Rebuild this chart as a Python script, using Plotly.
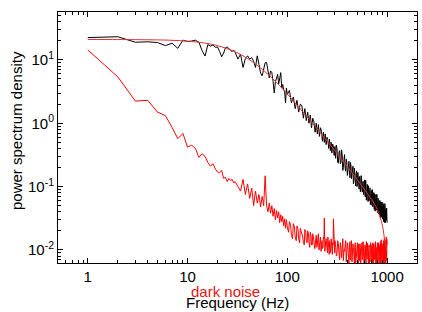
import numpy as np
import plotly.graph_objects as go

# Frequency grid (Hz) of the tabulated spectra
freq = np.concatenate([
    np.arange(1, 31, 1),
    np.arange(32, 101, 2),
    np.arange(105, 301, 5),
    np.arange(310, 1001, 10),
])
# extra interleaved bins at higher frequencies
freq_hi_extra = np.arange(305, 1000, 10)
freq_mid_extra = np.arange(103, 300, 5)

# Measured power spectrum (black)
psd_signal = [
    22.5, 23.2, 19.0, 19.3, 18.8, 16.8, 18.3, 15.2, 20.5, 19.5,
    19.8, 20.5, 19.0, 14.0, 11.5, 17.5, 16.5, 17.2, 15.8, 16.0,
    13.5, 11.2, 12.8, 15.5, 16.0, 15.0, 14.2, 13.5, 14.3, 13.2,
    # 32..100 step 2
    10.3, 12.3, 7.6, 10.5, 11.6, 10.3, 10.9, 9.5, 7.6, 11.6,
    8.5, 6.2, 5.6, 7.5, 9.0, 9.1, 6.8, 5.2, 6.7, 6.3,
    4.6, 3.0, 4.5, 5.2, 5.9, 4.2, 5.0, 6.3, 3.6, 4.1,
    3.4, 3.2, 2.1, 3.6, 2.85,
    # 105..300 step 5
    3.3, 2.1, 2.6, 1.7, 2.3, 1.5, 2.0, 1.9, 1.2, 1.7,
    1.1, 1.5, 1.0, 1.35, 0.85, 1.2, 1.05, 0.72, 1.0, 0.68,
    0.95, 0.62, 0.85, 0.75, 0.52, 0.72, 0.5, 0.68, 0.46, 0.6,
    0.55, 0.4, 0.56, 0.37, 0.5, 0.34, 0.47, 0.42, 0.31, 0.43,
    # 310..1000 step 10
    0.45, 0.24, 0.35, 0.23, 0.38, 0.18, 0.27, 0.195, 0.27, 0.15,
    0.24, 0.17, 0.24, 0.134, 0.173, 0.111, 0.196, 0.119, 0.16, 0.10,
    0.167, 0.099, 0.143, 0.083, 0.149, 0.091, 0.113, 0.075, 0.120, 0.074,
    0.126, 0.061, 0.097, 0.069, 0.103, 0.060, 0.090, 0.052, 0.077, 0.062,
    0.090, 0.048, 0.075, 0.049, 0.077, 0.041, 0.065, 0.045, 0.075, 0.039,
    0.064, 0.040, 0.054, 0.034, 0.060, 0.039, 0.053, 0.033, 0.057, 0.033,
    0.047, 0.028, 0.050, 0.031, 0.054, 0.027, 0.043, 0.030, 0.046, 0.027,
]
# black values at 305..995 step 10
psd_signal_hi_extra = [
    0.28, 0.40, 0.235, 0.37, 0.237, 0.316, 0.20, 0.32, 0.175, 0.245,
    0.173, 0.25, 0.138, 0.21, 0.151, 0.21, 0.123, 0.163, 0.102, 0.177,
    0.111, 0.145, 0.091, 0.146, 0.090, 0.141, 0.082, 0.121, 0.083, 0.128,
    0.0686, 0.106, 0.0685, 0.108, 0.058, 0.0897, 0.0643, 0.0956, 0.057, 0.0866,
    0.0506, 0.0786, 0.0541, 0.0806, 0.0435, 0.0706, 0.0487, 0.0753, 0.0424, 0.061,
    0.0414, 0.0657, 0.037, 0.0601, 0.040, 0.055, 0.0323, 0.057, 0.0342, 0.050,
    0.0307, 0.054, 0.0333, 0.046, 0.0271, 0.0478, 0.0288, 0.0441, 0.0294, 0.039,
]

# Dark noise spectrum (red, noisy)
psd_dark = [
    14.4, 5.4, 2.24, 2.3, 1.5, 1.32, 0.86, 0.57, 0.69, 0.42,
    0.45, 0.40, 0.29, 0.33, 0.30, 0.24, 0.21, 0.23, 0.19, 0.17,
    0.165, 0.18, 0.135, 0.14, 0.12, 0.135, 0.125, 0.13, 0.115, 0.12,
    # 32..100 step 2
    0.10, 0.085, 0.13, 0.075, 0.11, 0.065, 0.095, 0.05, 0.085, 0.055,
    0.075, 0.048, 0.07, 0.05, 0.148, 0.05, 0.04, 0.055, 0.038, 0.05,
    0.034, 0.045, 0.03, 0.042, 0.032, 0.04, 0.027, 0.036, 0.028, 0.034,
    0.024, 0.031, 0.022, 0.03, 0.023,
    # 105..300 step 5
    0.028, 0.017, 0.026, 0.016, 0.024, 0.015, 0.022, 0.018, 0.013, 0.021,
    0.014, 0.020, 0.013, 0.019, 0.012, 0.018, 0.014, 0.011, 0.017, 0.012,
    0.018, 0.011, 0.016, 0.012, 0.0105, 0.016, 0.032, 0.011, 0.015, 0.0095,
    0.016, 0.011, 0.014, 0.009, 0.015, 0.0105, 0.013, 0.031, 0.009, 0.014,
    # 310..1000 step 10
    0.008, 0.014, 0.009, 0.013, 0.0075, 0.015, 0.010, 0.012, 0.0065, 0.013,
    0.0085, 0.012, 0.007, 0.014, 0.009, 0.011, 0.0058, 0.013, 0.008, 0.012,
    0.0075, 0.0125, 0.0068, 0.011, 0.0085, 0.013, 0.007, 0.0115, 0.0055, 0.012,
    0.008, 0.0135, 0.0072, 0.011, 0.006, 0.012, 0.0085, 0.0125, 0.0065, 0.011,
    0.0078, 0.013, 0.0062, 0.0115, 0.0082, 0.0125, 0.0058, 0.011, 0.0075, 0.013,
    0.0068, 0.0115, 0.0048, 0.012, 0.008, 0.0135, 0.0065, 0.011, 0.005, 0.0125,
    0.0075, 0.014, 0.006, 0.0155, 0.0072, 0.013, 0.0045, 0.016, 0.0068, 0.012,
]
# dark noise at 103..298 step 5
psd_dark_mid_extra = [
    0.019, 0.025, 0.015, 0.023, 0.014, 0.021, 0.013, 0.020, 0.016, 0.012,
    0.019, 0.013, 0.018, 0.011, 0.017, 0.012, 0.016, 0.0105, 0.015, 0.011,
    0.016, 0.010, 0.015, 0.0095, 0.014, 0.011, 0.015, 0.0095, 0.014, 0.012,
    0.009, 0.014, 0.0085, 0.013, 0.0105, 0.0135, 0.0085, 0.012, 0.014, 0.009,
]
# dark noise at 305..995 step 10
psd_dark_hi_extra = [
    0.012, 0.0085, 0.0125, 0.007, 0.011, 0.0135, 0.0068, 0.0095, 0.014, 0.009,
    0.011, 0.006, 0.0135, 0.0095, 0.0065, 0.0125, 0.0088, 0.011, 0.0062, 0.0105,
    0.013, 0.006, 0.0095, 0.0125, 0.0062, 0.0105, 0.0095, 0.0135, 0.0078, 0.009,
    0.0115, 0.0058, 0.010, 0.0128, 0.0085, 0.0105, 0.0055, 0.0095, 0.013, 0.0075,
    0.012, 0.0055, 0.0095, 0.0125, 0.007, 0.0105, 0.0135, 0.0088, 0.0052, 0.0098,
    0.012, 0.0085, 0.013, 0.0072, 0.0095, 0.0055, 0.011, 0.0145, 0.0078, 0.0092,
    0.0125, 0.0062, 0.0105, 0.0125, 0.0058, 0.0115, 0.014, 0.0078, 0.0102, 0.0148,
]

# Fitted curve (smooth red)
fit_freq = [1, 2, 3, 5, 7, 10, 15, 20, 30, 40, 50, 70, 100, 150, 200, 300,
            400, 500, 600, 700, 750, 800, 850, 900, 940, 970, 1000]
fit_psd = [21.0, 20.95, 20.88, 20.68, 20.37, 19.76, 18.4, 16.8, 13.44, 10.5,
           8.2, 5.2, 2.9, 1.39, 0.81, 0.367, 0.206, 0.13, 0.088, 0.062,
           0.053, 0.043, 0.033, 0.024, 0.0155, 0.012, 0.009]

x_ticks = [1, 10, 100, 1000]
x_ticktext = ["1", "10", "100", "1000"]
y_ticks = [0.01, 0.1, 1, 10]
y_ticktext = ["10<sup>-2</sup>", "10<sup>-1</sup>", "10<sup>0</sup>", "10<sup>1</sup>"]

FONT = "Liberation Sans, Arial, sans-serif"

# merge interleaved bins into sorted series
sig_f = np.concatenate([freq, freq_hi_extra])
sig_v = np.concatenate([psd_signal, psd_signal_hi_extra])
o = np.argsort(sig_f, kind="stable")
sig_f, sig_v = sig_f[o], sig_v[o]

dark_f = np.concatenate([freq, freq_mid_extra, freq_hi_extra])
dark_v = np.concatenate([psd_dark, psd_dark_mid_extra, psd_dark_hi_extra])
o = np.argsort(dark_f, kind="stable")
dark_f, dark_v = dark_f[o], dark_v[o]

fig = go.Figure()
fig.add_trace(go.Scatter(x=dark_f, y=dark_v, mode="lines",
                         line=dict(color="rgb(255,0,0)", width=1), showlegend=False))
fig.add_trace(go.Scatter(x=sig_f, y=sig_v, mode="lines",
                         line=dict(color="black", width=1), showlegend=False))
fig.add_trace(go.Scatter(x=fit_freq, y=fit_psd, mode="lines", line_shape="spline",
                         line=dict(color="rgb(225,50,50)", width=1), showlegend=False))

axis_common = dict(
    showline=True, linecolor="black", linewidth=1, mirror="allticks",
    ticks="inside", ticklen=5, tickcolor="black", tickwidth=1,
    showgrid=False, zeroline=False,
    tickfont=dict(family=FONT, size=15, color="black"),
    minor=dict(ticks="inside", ticklen=3, tickcolor="black", dtick="D1", showgrid=False),
)

fig.update_xaxes(type="log", range=[-0.298, 3.30], tickvals=x_ticks, ticktext=x_ticktext,
                 **axis_common)
fig.update_yaxes(type="log", range=[-2.206, 1.756], tickvals=y_ticks, ticktext=y_ticktext,
                 **axis_common)

W, H = 422, 312
L, R, T, B = 58, 5, 12, 49
pw, ph = W - L - R, H - T - B


def px_to_paper(px, py):
    return (px - L) / pw, (H - B - py) / ph


def label(text, px, py, color="black", angle=0):
    ax, ay = px_to_paper(px, py)
    return dict(text=text, x=ax, y=ay, xref="paper", yref="paper", xanchor="center",
                yanchor="middle", showarrow=False, textangle=angle,
                font=dict(family=FONT, size=15, color=color))


fig.update_layout(
    width=W, height=H,
    margin=dict(l=L, r=R, t=T, b=B),
    plot_bgcolor="white", paper_bgcolor="white",
    font=dict(family=FONT, size=15, color="black"),
    annotations=[
        label("power spectrum density", 16, 131, angle=-90),
        label("dark noise", 225, 291, color="rgb(230,20,20)"),
        label("Frequency (Hz)", 237, 302),
    ],
)

fig.write_html("out.html")
